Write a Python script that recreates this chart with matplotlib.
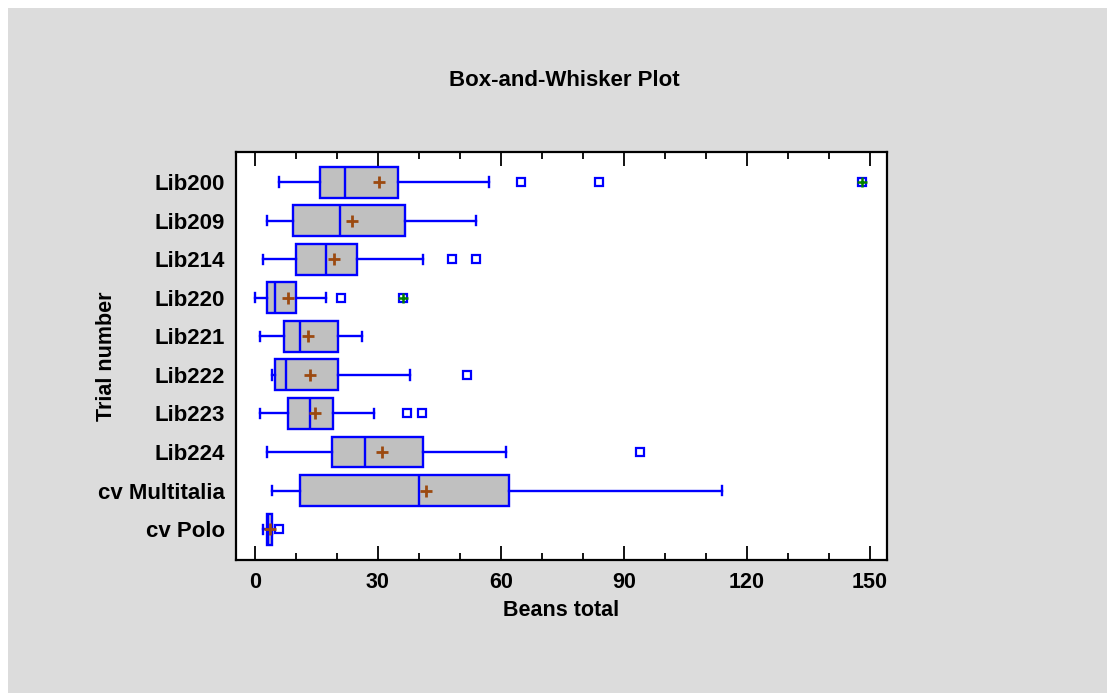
import matplotlib.pyplot as plt
from matplotlib.patches import Rectangle
from matplotlib.ticker import MultipleLocator

# --- data ---
trials = ['Lib200', 'Lib209', 'Lib214', 'Lib220', 'Lib221',
          'Lib222', 'Lib223', 'Lib224', 'cv Multitalia', 'cv Polo']
whislo = [6, 3, 2, 0, 1.2, 4.1, 1.2, 2.9, 4.1, 2]
q1 = [16, 9.2, 10.1, 2.9, 7, 5, 8, 18.9, 10.9, 2.9]
medians = [22, 20.7, 17.3, 5, 11, 7.5, 13.4, 26.9, 40, 3.3]
q3 = [35, 36.7, 24.9, 10, 20.2, 20.2, 19, 40.9, 62, 4.1]
whishi = [57, 54, 40.9, 17.3, 26.2, 37.9, 29, 61.2, 113.9, 4.1]
means = [30.2, 23.6, 19.3, 8, 13, 13.4, 14.7, 31.1, 41.7, 3.6]
outliers = [[65, 84], [], [48, 53.9], [21], [], [51.8], [37, 40.8], [93.9], [], [5.9]]
far_outliers = [[148], [], [], [36.2], [], [], [], [], [], []]

BLUE = '#0000ff'
BG = '#dcdcdc'

plt.rcParams['font.family'] = ['Liberation Sans', 'DejaVu Sans']
plt.rcParams['font.weight'] = 'bold'

fig = plt.figure(figsize=(11.07, 6.93), dpi=100)
fig.patch.set_facecolor('white')
fig.patches.append(Rectangle((8 / 1107, 0), 1, 1 - 8 / 693, transform=fig.transFigure,
                             facecolor=BG, edgecolor='none', zorder=-10))

ax = fig.add_axes([236 / 1107, 1 - 560 / 693, (887 - 236) / 1107, (560 - 152) / 693])
ax.set_facecolor('white')

stats = []
for i, name in enumerate(trials):
    stats.append(dict(label=name, whislo=whislo[i], q1=q1[i], med=medians[i], q3=q3[i],
                      whishi=whishi[i], mean=means[i], fliers=outliers[i]))

pos = list(range(len(trials)))
ax.bxp(stats, positions=pos, vert=False, widths=0.8, patch_artist=True,
       showmeans=True, capwidths=0.24,
       boxprops=dict(facecolor='#c0c0c0', edgecolor=BLUE, linewidth=1.7),
       medianprops=dict(color=BLUE, linewidth=1.7),
       whiskerprops=dict(color=BLUE, linewidth=1.7),
       capprops=dict(color=BLUE, linewidth=1.7),
       flierprops=dict(marker='s', markersize=6, markerfacecolor='none',
                       markeredgecolor=BLUE, markeredgewidth=1.6),
       meanprops=dict(marker='+', markersize=9, markeredgecolor='#9c4a10',
                      markeredgewidth=2))

# far outside points: square with a green plus inside
for i, vals in enumerate(far_outliers):
    for v in vals:
        ax.plot(v, i, marker='s', markersize=6, markerfacecolor='none',
                markeredgecolor=BLUE, markeredgewidth=1.6)
        ax.plot(v, i, marker='+', markersize=7, markeredgecolor='#008000',
                markeredgewidth=1.8)

ax.set_ylim(9.8, -0.78)
ax.set_xlim(-4.6, 154.2)
ax.set_yticks(pos)
ax.set_yticklabels(trials, fontsize=16, fontweight='bold')
ax.tick_params(axis='y', length=0, pad=8)

ax.xaxis.set_major_locator(MultipleLocator(30))
ax.xaxis.set_minor_locator(MultipleLocator(10))
ax.tick_params(axis='x', which='major', direction='in', length=10, width=1.3,
               top=True, labelsize=15.5, pad=9)
ax.tick_params(axis='x', which='minor', direction='in', length=5, width=1.3, top=True)
for lab in ax.get_xticklabels():
    lab.set_fontweight('bold')

for s in ax.spines.values():
    s.set_linewidth(1.6)
    s.set_color('black')

ax.set_xlabel('Beans total', fontsize=15.5, fontweight='bold', labelpad=5)
ax.set_ylabel('Trial number', fontsize=15.5, fontweight='bold')
ax.yaxis.set_label_coords((117 - 236) / 651, 0.5)
fig.text(564 / 1107, 1 - 81 / 693, 'Box-and-Whisker Plot', ha='center', va='center',
         fontsize=16, fontweight='bold')

fig.savefig('out.png', dpi=100, facecolor=fig.get_facecolor())
